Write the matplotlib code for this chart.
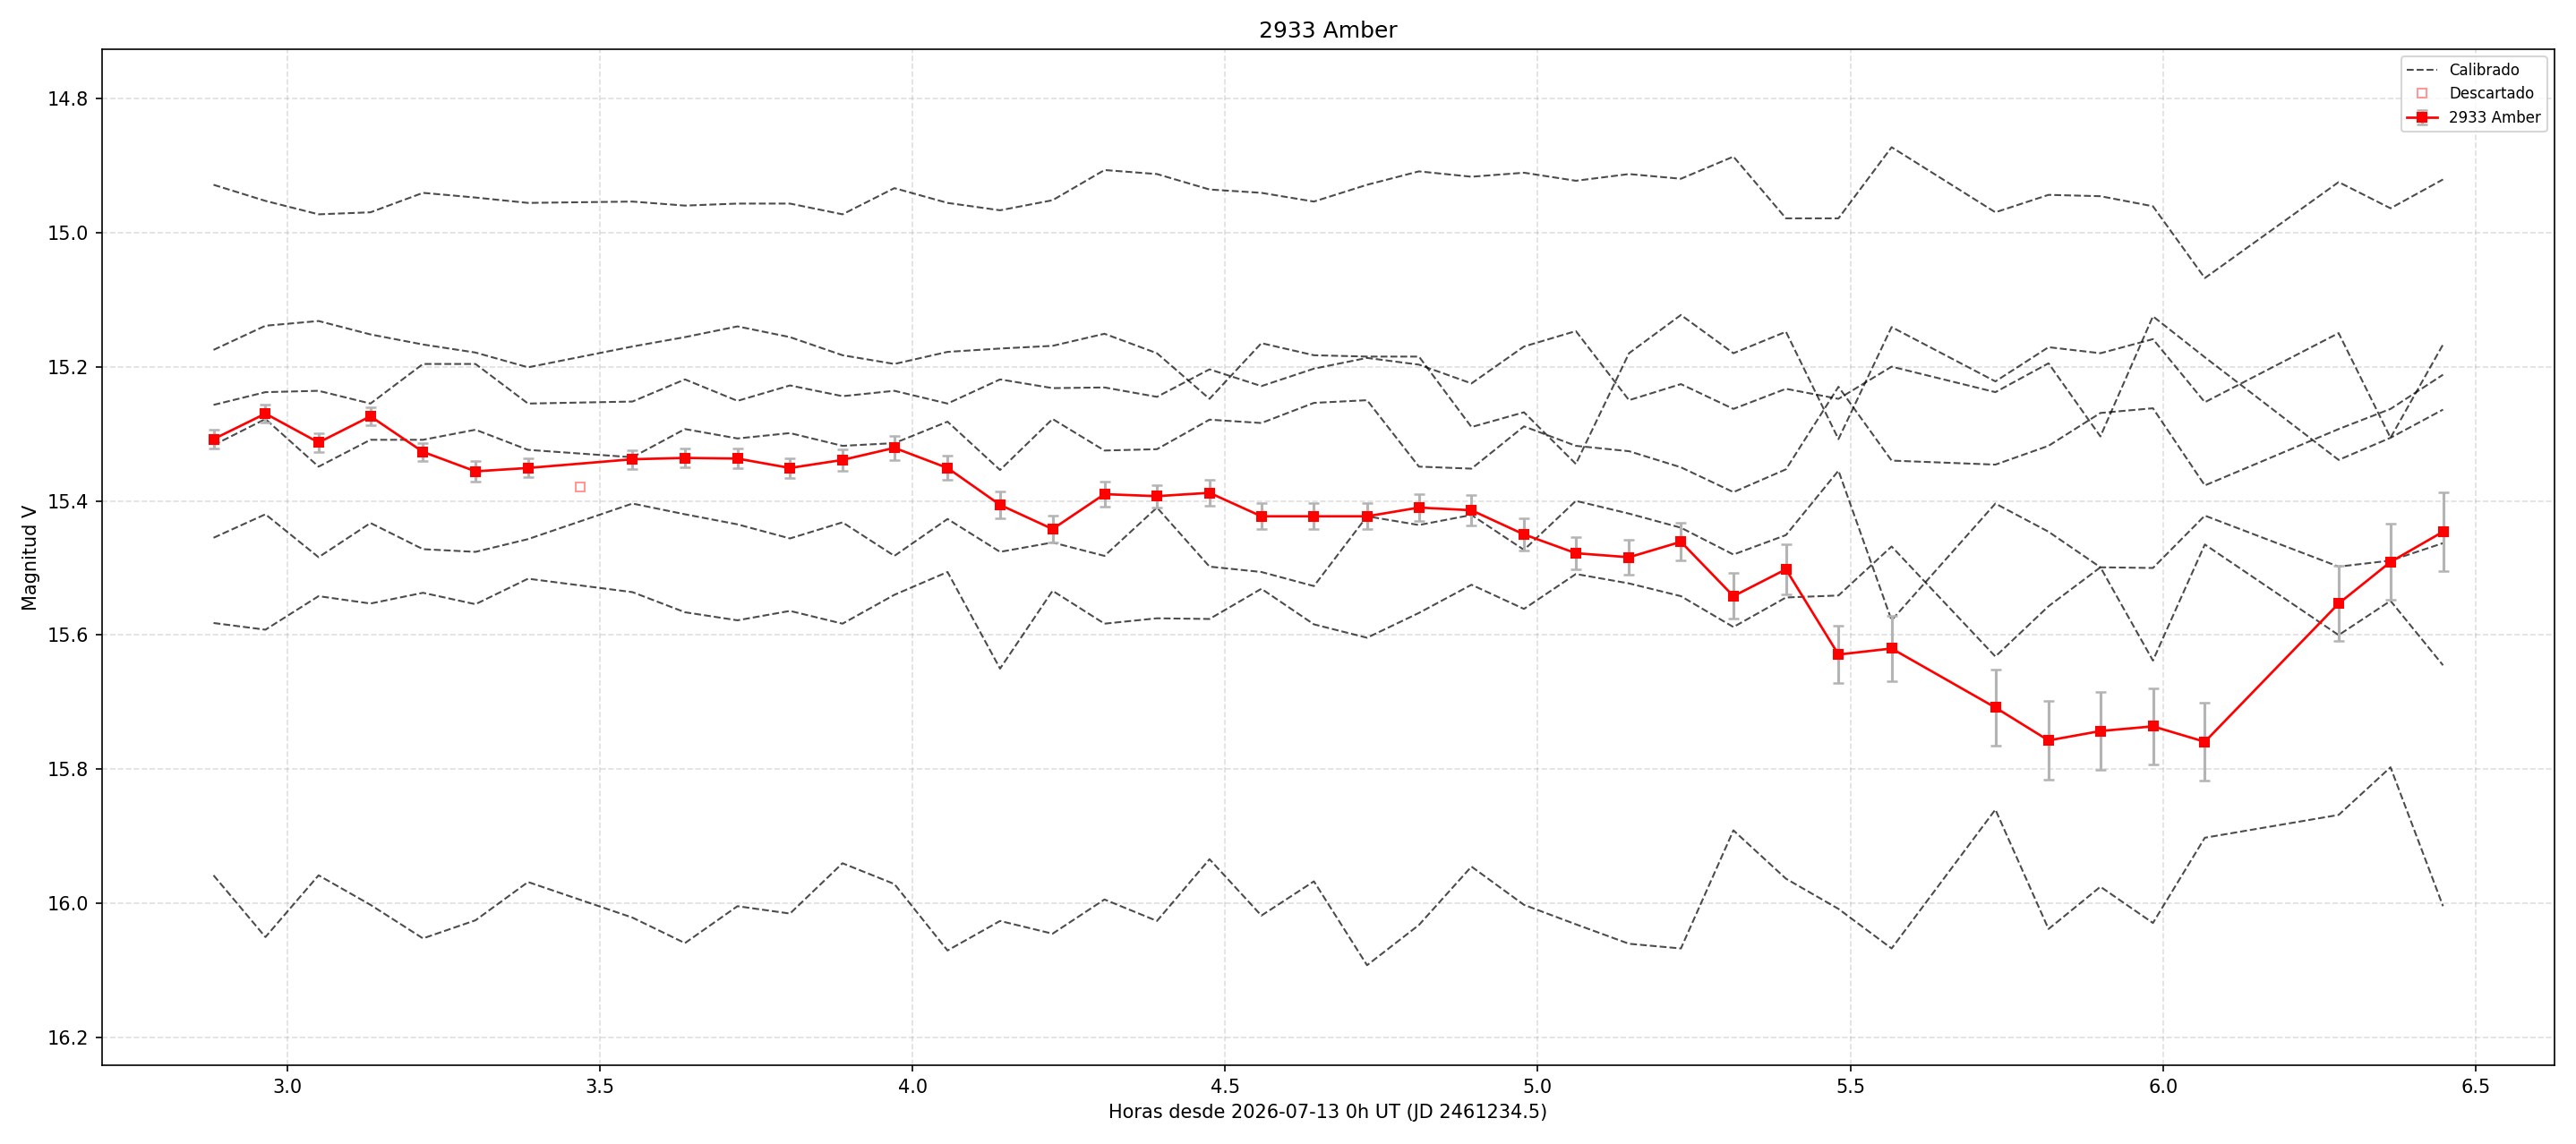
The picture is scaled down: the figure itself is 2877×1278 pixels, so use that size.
import matplotlib
matplotlib.use("Agg")
import matplotlib.pyplot as plt
import numpy as np

# Hours since 2026-07-13 0h UT
hours = [2.882, 2.965, 3.050, 3.133, 3.217, 3.301, 3.385, 3.552, 3.636, 3.720,
         3.804, 3.888, 3.971, 4.056, 4.140, 4.224, 4.307, 4.391, 4.475, 4.558,
         4.642, 4.727, 4.810, 4.894, 4.978, 5.061, 5.146, 5.229, 5.313, 5.397,
         5.481, 5.566, 5.732, 5.817, 5.900, 5.984, 6.067, 6.281, 6.364, 6.448]

# Target magnitudes
target_mag = [15.308, 15.270, 15.313, 15.274, 15.327, 15.356, 15.351, 15.338, 15.336, 15.337,
              15.351, 15.339, 15.321, 15.351, 15.406, 15.442, 15.390, 15.393, 15.388, 15.423,
              15.423, 15.423, 15.410, 15.414, 15.450, 15.478, 15.484, 15.461, 15.542, 15.502,
              15.629, 15.620, 15.708, 15.757, 15.743, 15.736, 15.759, 15.553, 15.491, 15.446]
target_err = [0.0145, 0.0136, 0.014, 0.0136, 0.0136, 0.015, 0.014, 0.014, 0.014, 0.0145,
              0.015, 0.016, 0.018, 0.018, 0.0196, 0.0196, 0.0187, 0.017, 0.019, 0.0196,
              0.0196, 0.0196, 0.0204, 0.0225, 0.024, 0.024, 0.0255, 0.028, 0.034, 0.037,
              0.043, 0.049, 0.057, 0.059, 0.058, 0.057, 0.058, 0.056, 0.057, 0.059]

# Discarded point
disc_hours = [3.469]
disc_mag = [15.379]

# Calibrated comparison stars
cal1 = [14.929, 14.953, 14.973, 14.970, 14.941, 14.948, 14.956, 14.954, 14.960,
        14.957, 14.957, 14.973, 14.934, 14.956, 14.967, 14.952, 14.907, 14.913,
        14.936, 14.941, 14.954, 14.929, 14.909, 14.917, 14.911, 14.923, 14.913,
        14.920, 14.887, 14.979, 14.979, 14.873, 14.970, 14.944,
        14.946, 14.961, 15.068, 14.925, 14.964, 14.921]
cal2 = [15.175, 15.139, 15.132, 15.152, 15.167, 15.179, 15.201, 15.170, 15.156,
        15.140, 15.156, 15.183, 15.196, 15.178, 15.173, 15.169, 15.151, 15.180,
        15.248, 15.165, 15.183, 15.185, 15.185, 15.290, 15.268, 15.345, 15.180,
        15.123, 15.180, 15.148, 15.308, 15.141, 15.222, 15.171,
        15.180, 15.159, 15.253, 15.150, 15.306, 15.167]
cal3 = [15.257, 15.238, 15.236, 15.255, 15.196, 15.196, 15.255, 15.252, 15.219,
        15.251, 15.228, 15.244, 15.236, 15.255, 15.219, 15.232, 15.231, 15.245,
        15.204, 15.229, 15.203, 15.187, 15.197, 15.225, 15.170, 15.147, 15.250,
        15.226, 15.263, 15.233, 15.248, 15.200, 15.238, 15.195,
        15.304, 15.125, 15.186, 15.339, 15.306, 15.264]
cal4 = [15.317, 15.278, 15.349, 15.309, 15.309, 15.294, 15.324, 15.335, 15.293,
        15.307, 15.299, 15.318, 15.314, 15.282, 15.354, 15.278, 15.325, 15.323,
        15.279, 15.284, 15.254, 15.250, 15.349, 15.352, 15.289, 15.318, 15.326,
        15.350, 15.387, 15.353, 15.230, 15.340, 15.346, 15.318,
        15.269, 15.262, 15.377, 15.293, 15.263, 15.212]
cal5 = [15.455, 15.420, 15.484, 15.433, 15.472, 15.476, 15.457, 15.404, 15.420,
        15.435, 15.456, 15.432, 15.482, 15.427, 15.476, 15.462, 15.482, 15.410,
        15.498, 15.506, 15.527, 15.423, 15.436, 15.421, 15.473, 15.400, 15.419,
        15.440, 15.480, 15.451, 15.355, 15.578, 15.404, 15.446,
        15.499, 15.500, 15.422, 15.498, 15.489, 15.463]
cal6 = [15.582, 15.592, 15.542, 15.553, 15.537, 15.554, 15.516, 15.536, 15.566,
        15.578, 15.564, 15.583, 15.540, 15.506, 15.650, 15.534, 15.583, 15.575,
        15.576, 15.531, 15.584, 15.604, 15.567, 15.525, 15.561, 15.509, 15.523,
        15.542, 15.588, 15.544, 15.541, 15.468, 15.632, 15.557,
        15.499, 15.638, 15.465, 15.600, 15.549, 15.645]
cal7 = [15.958, 16.050, 15.958, 16.002, 16.052, 16.025, 15.968, 16.021, 16.059,
        16.004, 16.015, 15.940, 15.971, 16.070, 16.026, 16.045, 15.994, 16.026,
        15.934, 16.018, 15.967, 16.092, 16.032, 15.945, 16.002, 16.031, 16.060,
        16.067, 15.891, 15.963, 16.008, 16.067, 15.860, 16.038,
        15.975, 16.029, 15.902, 15.868, 15.797, 16.004]
calibrated = [cal1, cal2, cal3, cal4, cal5, cal6, cal7]

title = "2933 Amber"
xlabel = "Horas desde 2026-07-13 0h UT (JD 2461234.5)"
ylabel = "Magnitud V"

fig = plt.figure(figsize=(2877 / 150, 1278 / 150), dpi=150)
ax = fig.add_axes([114 / 2877, 1 - 1190 / 1278, (2853 - 114) / 2877, (1190 - 55) / 1278])

for i, c in enumerate(calibrated):
    ax.plot(hours, c, linestyle="--", color="k", alpha=0.7, linewidth=1.0,
            label="Calibrado" if i == 0 else None, zorder=2)

ax.plot(disc_hours, disc_mag, linestyle="none", marker="s", markersize=4.5,
        markerfacecolor="none", markeredgecolor="red", alpha=0.4,
        label="Descartado", zorder=3)

ax.errorbar(hours, target_mag, yerr=target_err, color="red", marker="s",
            markersize=5, linewidth=1.3, ecolor="#b4b4b4", elinewidth=1.5,
            capsize=3, capthick=1.2, label=title, zorder=4)

ax.set_ylim(16.241, 14.727)
ax.set_yticks([14.8, 15.0, 15.2, 15.4, 15.6, 15.8, 16.0, 16.2])
ax.set_xticks([3.0, 3.5, 4.0, 4.5, 5.0, 5.5, 6.0, 6.5])
ax.grid(True, linestyle="--", alpha=0.4)
ax.set_axisbelow(True)
ax.tick_params(labelsize=10)
ax.set_title(title, fontsize=12)
ax.set_xlabel(xlabel, fontsize=10)
ax.set_ylabel(ylabel, fontsize=10)
ax.legend(loc="upper right", fontsize=8)

fig.savefig("out.png", dpi=150)
